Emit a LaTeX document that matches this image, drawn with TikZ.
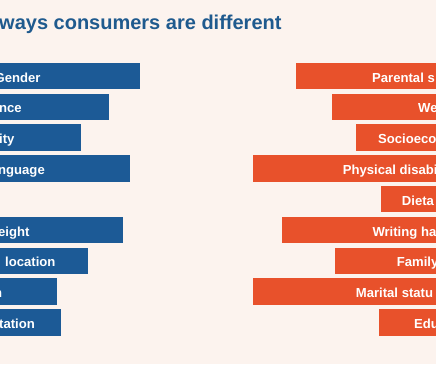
\documentclass[tikz,border=0pt]{standalone}
\usepackage{fontspec}
\setmainfont{Liberation Sans}
\definecolor{bgc}{HTML}{FCF3EE}
\definecolor{barblue}{HTML}{1C5A96}
\definecolor{barorange}{HTML}{E8512B}
\definecolor{titleblue}{HTML}{1F5A8E}
\tikzset{
  bar/.style={rectangle, draw=none, inner sep=0pt, minimum height=26.5pt},
  bluebar/.style={bar, fill=barblue, anchor=north west},
  orangebar/.style={bar, fill=barorange, anchor=north west},
  lbl/.style={text=white, font=\fontsize{13.1}{15}\selectfont\bfseries, inner sep=0pt, anchor=base west},
  ttl/.style={text=titleblue, font=\fontsize{20}{24}\selectfont\bfseries, inner sep=0pt, anchor=base west}
}
\begin{document}
\begin{tikzpicture}[x=1pt,y=-1pt]
\useasboundingbox (0,0) rectangle (436,364);
\fill[bgc] (0,0) rectangle (436,364);
\clip (0,0) rectangle (436,364);
\node[ttl] (title) at (-1,29.5) {ways consumers are different};
% left (blue) bars
\node[bluebar, minimum width=150pt] (l1) at (-10,62.5) {};
\node[bluebar, minimum width=119pt] (l2) at (-10,93.3) {};
\node[bluebar, minimum width=91pt] (l3) at (-10,124.1) {};
\node[bluebar, minimum width=140pt] (l4) at (-10,154.9) {};
\node[bluebar, minimum width=133pt] (l5) at (-10,216.5) {};
\node[bluebar, minimum width=98pt] (l6) at (-10,247.3) {};
\node[bluebar, minimum width=67pt] (l7) at (-10,278.1) {};
\node[bluebar, minimum width=71pt] (l8) at (-10,308.9) {};
\node[lbl] (lt1) at (-5.5,82) {Gender};
\node[lbl] (lt2) at (-1,112.8) {nce};
\node[lbl] (lt3) at (-1,143.6) {ity};
\node[lbl] (lt4) at (-2,174.4) {nguage};
\node[lbl] (lt5) at (-2,236) {eight};
\node[lbl] (lt6) at (5,266.8) {location};
\node[lbl] (lt7) at (-6,297.6) {n};
\node[lbl] (lt8) at (-1,328.4) {tation};
% right (orange) bars
\node[orangebar, minimum width=150pt] (r1) at (296,62.5) {};
\node[orangebar, minimum width=114pt] (r2) at (332,93.3) {};
\node[orangebar, minimum width=90pt] (r3) at (356,124.1) {};
\node[orangebar, minimum width=193pt] (r4) at (253,154.9) {};
\node[orangebar, minimum width=65pt] (r5) at (381,185.7) {};
\node[orangebar, minimum width=164pt] (r6) at (282,216.5) {};
\node[orangebar, minimum width=111pt] (r7) at (335,247.3) {};
\node[orangebar, minimum width=193pt] (r8) at (253,278.1) {};
\node[orangebar, minimum width=67pt] (r9) at (379,308.9) {};
\node[lbl] (rt1) at (372,82) {Parental s};
\node[lbl] (rt2) at (418,112.8) {We};
\node[lbl] (rt3) at (378,143.6) {Socioeco};
\node[lbl] (rt4) at (342.7,174.4) {Physical disabi};
\node[lbl] (rt5) at (401.7,205.2) {Dieta};
\node[lbl] (rt6) at (372.3,236) {Writing ha};
\node[lbl] (rt7) at (396.7,266.8) {Family};
\node[lbl] (rt8) at (355.7,297.6) {Marital statu};
\node[lbl] (rt9) at (414,328.4) {Edu};
\end{tikzpicture}
\end{document}
